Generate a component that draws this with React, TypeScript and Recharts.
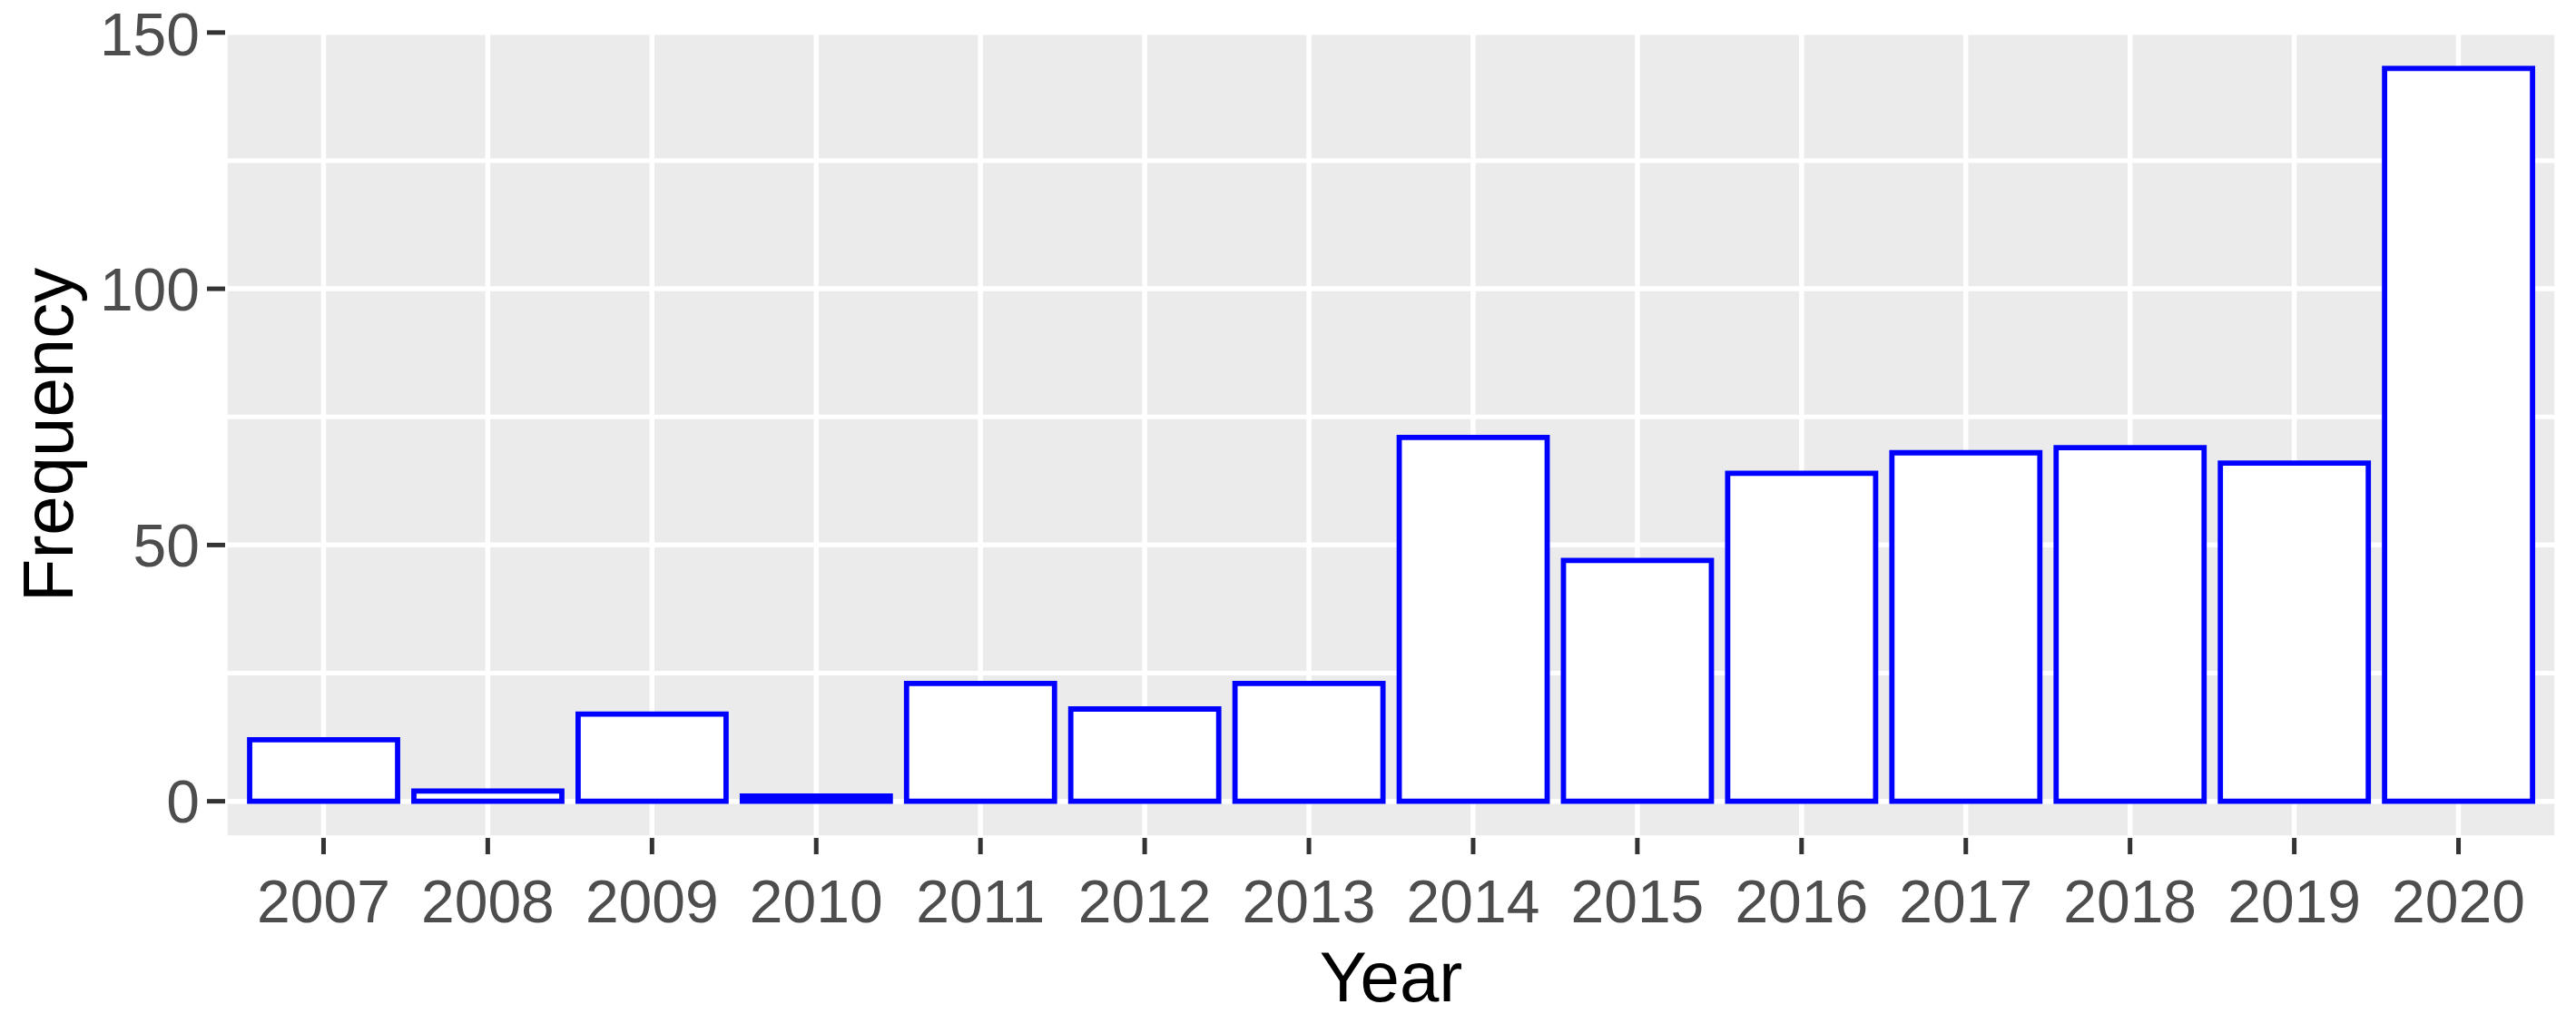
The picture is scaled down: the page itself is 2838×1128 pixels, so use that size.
import React from 'react';
import { BarChart, Bar, XAxis, YAxis, CartesianGrid, Label } from 'recharts';

// counts per year
const years = ['2007', '2008', '2009', '2010', '2011', '2012', '2013', '2014', '2015', '2016', '2017', '2018', '2019', '2020'];
const frequency = [12, 2, 17, 1, 23, 18, 23, 71, 47, 64, 68, 69, 66, 143];

const majorTicks = [0, 50, 100, 150];
const minorTicks = [25, 75, 125];

const FONT = '"Liberation Sans", Arial, Helvetica, sans-serif';

if (typeof document !== 'undefined') {
  document.body.style.margin = '0';
  document.body.style.background = '#ffffff';
}

const data = years.map((year, i) => ({ year, count: frequency[i] }));

const XTitle = ({ viewBox }: any) => (
  <text
    x={viewBox.x + viewBox.width / 2}
    y={viewBox.y + 180}
    textAnchor="middle"
    fontFamily={FONT}
    fontSize={78}
    fill="#000000"
  >
    Year
  </text>
);

const YTitle = ({ viewBox }: any) => (
  <text
    transform={`translate(80, ${viewBox.y + viewBox.height / 2}) rotate(-90)`}
    textAnchor="middle"
    fontFamily={FONT}
    fontSize={78}
    fill="#000000"
  >
    Frequency
  </text>
);

export default function App() {
  const tickStyle = { fontSize: 66, fill: '#4D4D4D', fontFamily: FONT };

  return (
    <div style={{ width: 2838, height: 1128, background: '#fff' }}>
      <BarChart
        width={2838}
        height={1128}
        data={data}
        margin={{ top: 35, right: 21, bottom: 0, left: 0 }}
        barCategoryGap="5%"
      >
        <CartesianGrid
          fill="#EBEBEB"
          stroke="#FFFFFF"
          strokeWidth={5.5}
        />
        <CartesianGrid
          vertical={false}
          stroke="#FFFFFF"
          strokeWidth={5}
          horizontalValues={minorTicks}
        />
        <XAxis
          dataKey="year"
          type="category"
          height={205}
          padding={{ left: 18, right: 18 }}
          axisLine={false}
          tickLine={{ stroke: '#333333', strokeWidth: 5 }}
          tickSize={18}
          tickMargin={28}
          tick={tickStyle}
          interval={0}
        >
          <Label content={<XTitle />} />
        </XAxis>
        <YAxis
          type="number"
          width={248}
          domain={[-7.15, 150.15]}
          ticks={majorTicks}
          allowDataOverflow
          axisLine={false}
          tickLine={{ stroke: '#333333', strokeWidth: 5 }}
          tickSize={20}
          tickMargin={8}
          tick={tickStyle}
        >
          <Label content={<YTitle />} />
        </YAxis>
        <Bar
          dataKey="count"
          fill="#FFFFFF"
          stroke="#0000FF"
          strokeWidth={5.8}
          isAnimationActive={false}
        />
      </BarChart>
    </div>
  );
}
